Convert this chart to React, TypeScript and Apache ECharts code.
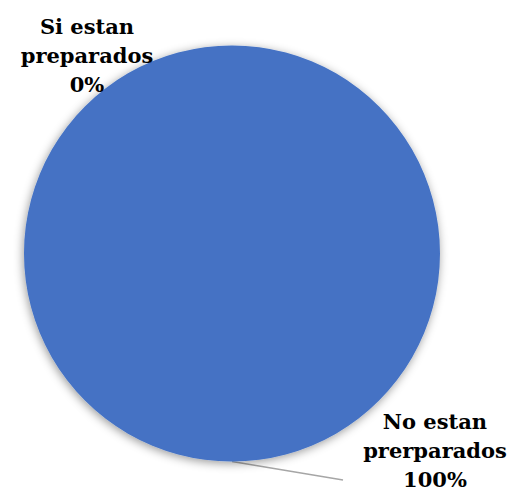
import React, { useEffect, useRef } from "react";
import * as echarts from "echarts";

const categories = ["Si estan\npreparados", "No estan\nprerparados"];
const values = [0, 100];
const percentLabels = ["0%", "100%"];

export default function App() {
  const ref = useRef<HTMLDivElement>(null);
  useEffect(() => {
    if (!ref.current) return;
    const chart = echarts.init(ref.current, null, { renderer: "svg" });
    const labelPos = [
      { x: 87, y: 55 },
      { x: 435, y: 450 },
    ];
    const fontFamily = "DejaVu Serif";
    chart.setOption({
      animation: false,
      backgroundColor: "#ffffff",
      textStyle: { fontFamily },
      series: [
        {
          type: "pie",
          center: [232, 253.5],
          radius: 208,
          startAngle: 90,
          clockwise: true,
          stillShowZeroSum: true,
          avoidLabelOverlap: false,
          itemStyle: {
            color: "#4472C4",
            shadowBlur: 10,
            shadowColor: "rgba(0,0,0,0.4)",
            shadowOffsetX: -1,
            shadowOffsetY: 2,
          },
          label: {
            show: true,
            formatter: (p: any) => `${categories[p.dataIndex]}\n${percentLabels[p.dataIndex]}`,
            fontFamily,
            fontWeight: "bold",
            fontSize: 21,
            lineHeight: 29,
            color: "#000000",
            align: "center",
          },
          labelLine: {
            show: true,
            lineStyle: { color: "#A6A6A6", width: 1.5 },
          },
          labelLayout: (params: any) => {
            const pos = labelPos[params.dataIndex];
            const res: any = {
              x: pos.x,
              y: pos.y,
              align: "center",
              verticalAlign: "middle",
            };
            if (params.dataIndex === 1 && params.labelLinePoints) {
              const start = params.labelLinePoints[0];
              res.labelLinePoints = [start, [343, 480], [343, 480]];
            }
            return res;
          },
          data: values.map((v, i) => ({
            name: categories[i],
            value: v,
            labelLine: { show: i === 1 },
          })),
        },
      ],
    });
    return () => chart.dispose();
  }, []);
  return (
    <div
      ref={ref}
      style={{ position: "absolute", left: 0, top: 0, width: 509, height: 492 }}
    />
  );
}
